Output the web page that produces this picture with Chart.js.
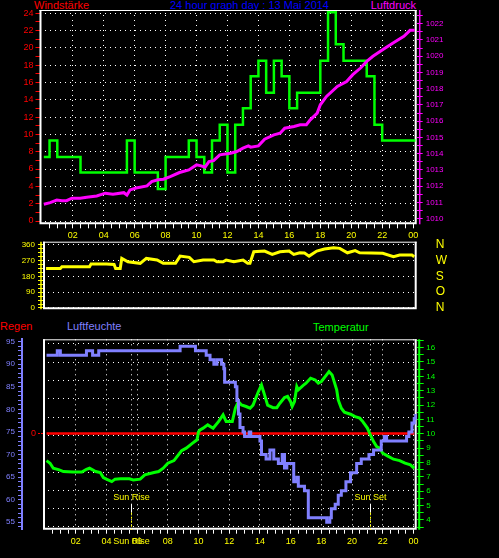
<!DOCTYPE html>
<html>
<head>
<meta charset="utf-8">
<script src="https://cdn.jsdelivr.net/npm/chart.js@4"></script>
<style>
html,body{margin:0;background:#000;width:499px;height:558px;overflow:hidden;position:relative}
canvas{position:absolute;left:0}
.lbl{position:absolute;font:11px "Liberation Sans",Arial,sans-serif;line-height:11px;white-space:nowrap}
</style>
</head>
<body>
<div class="lbl" style="left:34px;top:0;color:#f00">Windstärke</div>
<div class="lbl" style="left:0;width:499px;text-align:center;top:0;color:#00f">24 hour graph day : 13 Mai 2014</div>
<div class="lbl" style="right:83px;top:0;color:#f0f">Luftdruck</div>
<div class="lbl" style="left:0;top:321px;color:#f00">Regen</div>
<div class="lbl" style="left:67px;top:321px;color:#8080ff">Luftfeuchte</div>
<div class="lbl" style="left:313px;top:322px;color:#0f0">Temperatur</div>
<canvas id="cTop" width="499" height="241" style="top:0"></canvas>
<canvas id="cDir" width="499" height="90" style="top:230px"></canvas>
<canvas id="cBot" width="499" height="240" style="top:318px"></canvas>
<script>
// wind speed (km/h), step starts in hours
const WIND_T = [0.13,0.5,1,2.5,5.5,6,7.5,8,9.5,10,10.5,11,11.5,12,12.5,13,13.5,14,14.5,15,15.5,16,16.5,18,18.5,19,19.5,21,21.5,22,24.15];
const WIND_V = [7.4,9.3,7.4,5.6,9.3,5.6,3.7,7.4,9.3,7.4,5.6,9.3,11.1,5.6,11.1,13.0,16.7,18.5,14.8,18.5,16.7,13.0,14.8,18.5,24.1,20.4,18.5,16.7,11.1,9.3,9.3];

// pressure (hPa)
const PRES_T = [0.13,0.54,0.97,1.3,1.6,1.94,2.48,2.9,3.55,4.1,4.6,5.3,5.5,5.7,6.1,6.8,7.1,7.5,7.86,8.3,8.9,9.5,10.0,10.3,10.55,10.8,11.1,11.5,12.2,12.6,13.0,13.35,13.5,14.0,14.4,15.0,15.4,15.7,16.3,16.7,17.1,17.35,17.8,18.0,18.4,19.1,19.7,20.1,20.6,21.0,21.4,22.1,22.7,23.4,23.8,24.1];
const PRES_V = [1010.89,1010.99,1011.15,1011.11,1011.11,1011.26,1011.26,1011.32,1011.40,1011.57,1011.50,1011.60,1011.46,1011.77,1011.89,1012.02,1012.28,1012.39,1012.43,1012.59,1012.84,1013.00,1013.31,1013.25,1013.17,1013.51,1013.57,1013.93,1014.03,1014.13,1014.34,1014.48,1014.40,1014.48,1014.89,1015.16,1015.26,1015.57,1015.67,1015.78,1015.78,1016.08,1016.50,1017.01,1017.52,1018.14,1018.44,1018.86,1019.27,1019.68,1019.99,1020.44,1020.81,1021.22,1021.59,1021.59];

// wind direction (degrees)
const DIR_T = [0.07,1.0,1.1,2.9,3.0,4.0,4.5,4.6,4.9,5.0,5.4,6.2,6.6,7.3,7.7,8.5,8.8,9.4,9.7,10.3,11.0,11.2,11.6,11.8,12.3,12.9,13.2,13.35,13.6,14.3,14.8,15.3,15.9,16.2,16.6,16.9,17.2,17.7,18.2,18.8,19.2,19.7,20.2,20.5,22.0,22.7,23.1,23.9,24.05];
const DIR_V = [225,225,235,235,250,250,248,225,225,282,263,254,282,273,254,254,295,288,263,273,273,263,263,273,263,273,254,254,320,324,305,320,324,305,314,313,295,324,335,343,339,314,326,314,311,292,301,301,292];
const DIR_LABELS = ['N','O','S','W','N'];

// humidity (%), step starts
const HUM_T = [0.1,0.8,1.0,2.7,3.1,3.5,8.8,9.8,10.5,10.75,11.0,11.2,11.5,11.65,11.7,12.4,12.5,12.6,12.7,12.9,13.0,13.3,13.4,14.0,14.1,14.4,14.65,14.9,15.2,15.45,15.6,15.75,16.2,16.4,16.5,16.9,17.15,18.35,18.55,18.65,18.9,19.1,19.3,19.6,19.9,20.3,20.6,21.1,21.4,21.9,22.1,22.25,23.55,23.7,23.9,24.05,24.15];
const HUM_V = [92,93,92,93,92,93,94,93,92,91,90,91,90,89,86,85,82,79,76,75,74,75,74,73,70,69,71,69,68,70,67,68,64,65,63,62,56,55,56,58,59,61,62,64,66,68,69,70,71,73,74,73,74,75,77,78,79];

// temperature (°C)
const TEMP_T = [0.1,0.33,0.54,0.93,1.2,1.84,2.4,2.7,2.9,3.3,3.6,3.8,4.0,4.35,4.56,4.9,5.5,5.75,6.2,6.5,7.1,7.4,7.7,8.0,8.4,8.6,8.9,9.2,9.55,9.9,10.0,10.1,10.3,10.6,10.95,11.3,11.6,11.8,12.2,12.4,12.6,12.8,13.1,13.36,13.55,13.9,14.1,14.3,14.5,14.85,15.1,15.3,15.6,15.8,16.0,16.1,16.25,16.4,16.5,16.8,17.0,17.3,17.6,17.8,18.0,18.3,18.5,18.7,19.0,19.1,19.3,19.5,19.9,20.2,20.5,20.7,21.0,21.2,21.4,21.6,21.8,22.0,22.3,22.7,23.1,23.45,23.8,24.05];
const TEMP_V = [8.13,7.95,7.6,7.49,7.37,7.33,7.33,7.53,7.6,7.37,7.3,6.95,6.84,6.67,6.84,6.86,6.86,6.79,6.84,7.14,7.3,7.37,7.6,7.95,8.13,8.41,8.83,9.0,9.3,9.58,10.15,10.27,10.39,10.62,10.39,10.85,11.32,10.85,10.85,11.78,12.24,12.01,11.9,11.78,12.0,12.94,13.4,12.71,12.0,11.82,11.82,12.13,12.52,12.6,12.24,11.9,12.24,13.29,13.06,13.36,13.52,13.87,13.75,13.52,13.64,14.05,14.33,14.1,13.06,12.36,11.78,11.5,11.36,11.2,11.09,10.85,10.4,9.9,9.46,9.11,9.0,8.65,8.46,8.23,8.13,7.95,7.83,7.6];

// rain (mm)
const RAIN_T = [0.1,24.05];
const RAIN_V = [0,0];

// sun rise / set (hours)
const SUN_T = [5.57,21.2];
const SUN_LABELS = ['Sun Rise','Sun Set'];
const SUN_ON_AXIS = [true,false];

const FONT = 'Liberation Sans';
const DOT = [1,4];
const hide = 'rgba(0,0,0,0)';
Chart.defaults.font.family = FONT;

const font = size => ({ family: FONT, size });
const pts = (T, V) => T.map((t, i) => ({ x: t, y: V[i] }));
const range = (a, b, s) => { const r = []; for (let v = a; v <= b + 1e-9; v += s) r.push({ value: +v.toFixed(2) }); return r; };
const isMul = (v, m) => Math.abs(v / m - Math.round(v / m)) < 1e-6;
const gridAt = m => c => (c.tick && isMul(c.tick.value, m)) ? '#fff' : hide;
const hourLabel = v => (isMul(v, 2) ? String(Math.round(v) % 24).padStart(2, '0') : '');

function hourAxis(min, max, h){
  return {
    type: 'linear', min, max,
    afterBuildTicks: s => { s.ticks = range(0.5, 24, 0.5); },
    afterFit: s => { s.height = h; },
    ticks: { autoSkip: false, maxRotation: 0, color: '#ff0', font: font(9), padding: 2, callback: hourLabel },
    grid: { color: gridAt(2), lineWidth: 1, tickColor: '#fff', tickWidth: 1, tickLength: 4 },
    border: { display: false, dash: DOT }
  };
}

const framePlugin = {
  id: 'frame',
  beforeDatasetsDraw(chart){
    const a = chart.chartArea, ctx = chart.ctx;
    ctx.save();
    ctx.strokeStyle = '#fff';
    ctx.lineWidth = 1;
    ctx.beginPath(); ctx.moveTo(a.left, a.top + 0.5); ctx.lineTo(a.right, a.top + 0.5); ctx.stroke();
    ctx.lineWidth = 2;
    ctx.beginPath();
    ctx.moveTo(a.left + 1, a.top); ctx.lineTo(a.left + 1, a.bottom - 1);
    ctx.lineTo(a.right - 1, a.bottom - 1); ctx.lineTo(a.right - 1, a.top);
    ctx.stroke();
    ctx.restore();
  }
};

function sideLine(id, dx, color, width){
  return {
    id: 'side_' + id,
    afterDraw(chart){
      const s = chart.scales[id], a = chart.chartArea, ctx = chart.ctx;
      const x = (s.position === 'left' ? a.left : a.right) + dx;
      ctx.save();
      ctx.strokeStyle = color; ctx.lineWidth = width;
      ctx.beginPath(); ctx.moveTo(x, a.top); ctx.lineTo(x, a.bottom); ctx.stroke();
      ctx.restore();
    }
  };
}

const sunPlugin = {
  id: 'sun',
  beforeDatasetsDraw(chart){
    const a = chart.chartArea, ctx = chart.ctx, xs = chart.scales.x;
    ctx.save();
    ctx.strokeStyle = '#fff'; ctx.lineWidth = 1; ctx.setLineDash(DOT);
    SUN_T.forEach(t => {
      const x = Math.round(xs.getPixelForValue(t)) + 0.5;
      ctx.beginPath(); ctx.moveTo(x, a.top); ctx.lineTo(x, a.bottom); ctx.stroke();
    });
    ctx.restore();
  },
  afterDatasetsDraw(chart){
    const a = chart.chartArea, ctx = chart.ctx, xs = chart.scales.x;
    ctx.save();
    ctx.font = '9px "Liberation Sans"'; ctx.textAlign = 'center'; ctx.textBaseline = 'middle';
    SUN_T.forEach((t, i) => {
      const x = Math.round(xs.getPixelForValue(t)) + 0.5;
      ctx.fillStyle = '#ff0';
      ctx.fillText(SUN_LABELS[i], x, a.bottom - 32);
      if (SUN_ON_AXIS[i]) ctx.fillText(SUN_LABELS[i], x, a.bottom + 11.5);
      ctx.lineWidth = 1;
      ctx.setLineDash([]); ctx.strokeStyle = '#fff';
      ctx.beginPath(); ctx.moveTo(x, a.bottom - 26); ctx.lineTo(x, a.bottom - 17); ctx.stroke();
      ctx.setLineDash([2,2]); ctx.strokeStyle = '#ff0';
      ctx.beginPath(); ctx.moveTo(x, a.bottom - 17); ctx.lineTo(x, a.bottom); ctx.stroke();
    });
    ctx.restore();
  }
};

const base = {
  responsive: false,
  animation: false,
  plugins: { legend: { display: false }, tooltip: { enabled: false } },
  elements: { point: { radius: 0 }, line: { tension: 0 } }
};

// Windstärke + Luftdruck
new Chart(document.getElementById('cTop'), {
  type: 'line',
  data: { datasets: [
    { data: pts(PRES_T, PRES_V), yAxisID: 'pres', borderColor: '#f0f', borderWidth: 3 },
    { data: pts(WIND_T, WIND_V), yAxisID: 'wind', borderColor: '#0f0', borderWidth: 2.5, stepped: true }
  ]},
  options: Object.assign({}, base, {
    layout: { padding: { top: 10 } },
    scales: {
      x: hourAxis(-0.15, 24.23, 16.7),
      wind: {
        position: 'left', min: -0.38, max: 24.35,
        afterBuildTicks: s => { s.ticks = range(0, 24, 1); },
        afterFit: s => { s.width = 39.5; },
        ticks: { autoSkip: false, color: '#f00', font: font(9), padding: 2, callback: v => isMul(v, 2) ? v : '' },
        grid: { color: gridAt(2), tickColor: '#f00', tickWidth: 1, tickLength: 4 },
        border: { display: false, dash: DOT }
      },
      pres: {
        position: 'right', min: 1009.655, max: 1022.84,
        afterBuildTicks: s => { s.ticks = range(1010, 1022.5, 0.5); },
        afterFit: s => { s.width = 82.3; },
        ticks: { autoSkip: false, color: '#f0f', font: font(8), padding: 3, callback: v => isMul(v, 1) ? v : '' },
        grid: { drawOnChartArea: false, tickColor: '#f0f', tickWidth: 1, tickLength: 6 },
        border: { display: false }
      }
    }
  }),
  plugins: [framePlugin, sideLine('pres', 3, '#f0f', 1.5)]
});

// Windrichtung
new Chart(document.getElementById('cDir'), {
  type: 'line',
  data: { datasets: [
    { data: pts(DIR_T, DIR_V), yAxisID: 'dir', borderColor: '#ff0', borderWidth: 3 }
  ]},
  options: Object.assign({}, base, {
    layout: { padding: { top: 11.7, bottom: 10.7 } },
    scales: {
      x: { type: 'linear', min: -0.13, max: 24.21, display: false },
      dir: {
        position: 'left', min: -7.4, max: 377,
        afterBuildTicks: s => { s.ticks = range(0, 360, 22.5); },
        afterFit: s => { s.width = 43; },
        ticks: { autoSkip: false, color: '#ff0', font: font(8), padding: 3, callback: v => isMul(v, 90) ? v : '' },
        grid: { color: gridAt(90), tickColor: '#ff0', tickWidth: 1, tickLength: 5 },
        border: { display: false, dash: DOT }
      },
      compass: {
        position: 'right', min: -7.4, max: 377,
        afterBuildTicks: s => { s.ticks = range(0, 360, 90); },
        afterFit: s => { s.width = 82.3; },
        ticks: { autoSkip: false, color: '#ff0', font: font(12), padding: 0, callback: v => DIR_LABELS[Math.round(v / 90)] },
        grid: { drawOnChartArea: false, drawTicks: true, tickLength: 19, tickColor: hide },
        border: { display: false }
      }
    }
  }),
  plugins: [framePlugin, sideLine('dir', -2, '#ff0', 1.5)]
});

// Regen, Luftfeuchte, Temperatur
new Chart(document.getElementById('cBot'), {
  type: 'line',
  data: { datasets: [
    { data: pts(HUM_T, HUM_V), yAxisID: 'hum', borderColor: '#8080ff', borderWidth: 3, stepped: true, order: 0 },
    { data: pts(TEMP_T, TEMP_V), yAxisID: 'temp', borderColor: '#0f0', borderWidth: 3, order: 1 },
    { data: pts(RAIN_T, RAIN_V), yAxisID: 'rain', borderColor: '#f00', borderWidth: 2.5, order: 2 }
  ]},
  options: Object.assign({}, base, {
    layout: { padding: { top: 21.3 } },
    scales: {
      x: hourAxis(-0.13, 24.21, 28.3),
      grid: {
        position: 'left', min: -0.15, max: 10.25,
        afterBuildTicks: s => { s.ticks = range(0, 10, 1); },
        afterFit: s => { s.width = 0; },
        ticks: { display: false },
        grid: { color: '#fff', drawTicks: false },
        border: { display: false, dash: DOT }
      },
      rain: {
        position: 'left', weight: 0, min: -1, max: 0.98,
        afterBuildTicks: s => { s.ticks = [{ value: 0 }]; },
        afterFit: s => { s.width = 21; },
        ticks: { autoSkip: false, color: '#f00', font: font(9), padding: 2 },
        grid: { drawOnChartArea: false, tickColor: '#f00', tickWidth: 1, tickLength: 5, tickBorderDash: [2,1] },
        border: { display: false }
      },
      hum: {
        position: 'left', weight: 1, min: 53.36, max: 95.53,
        afterBuildTicks: s => { s.ticks = range(54, 95, 1); },
        afterFit: s => { s.width = 22; },
        ticks: { autoSkip: false, color: '#8080ff', font: font(8), padding: 3, callback: v => isMul(v, 5) ? v : '' },
        grid: { drawOnChartArea: false, tickColor: '#8080ff', tickWidth: 1, tickLength: 4 },
        border: { display: true, color: '#8080ff', width: 2 }
      },
      temp: {
        position: 'right', min: 3.32, max: 16.58,
        afterBuildTicks: s => { s.ticks = range(3.5, 16.5, 0.5); },
        afterFit: s => { s.width = 82.3; },
        ticks: { autoSkip: false, color: '#0f0', font: font(8), padding: 2.5, callback: v => isMul(v, 1) ? v : '' },
        grid: { drawOnChartArea: false, tickColor: '#0f0', tickWidth: 1, tickLength: 7 },
        border: { display: false }
      }
    }
  }),
  plugins: [framePlugin, sunPlugin, sideLine('temp', 2.5, '#0f0', 2)]
});
</script>
</body>
</html>
